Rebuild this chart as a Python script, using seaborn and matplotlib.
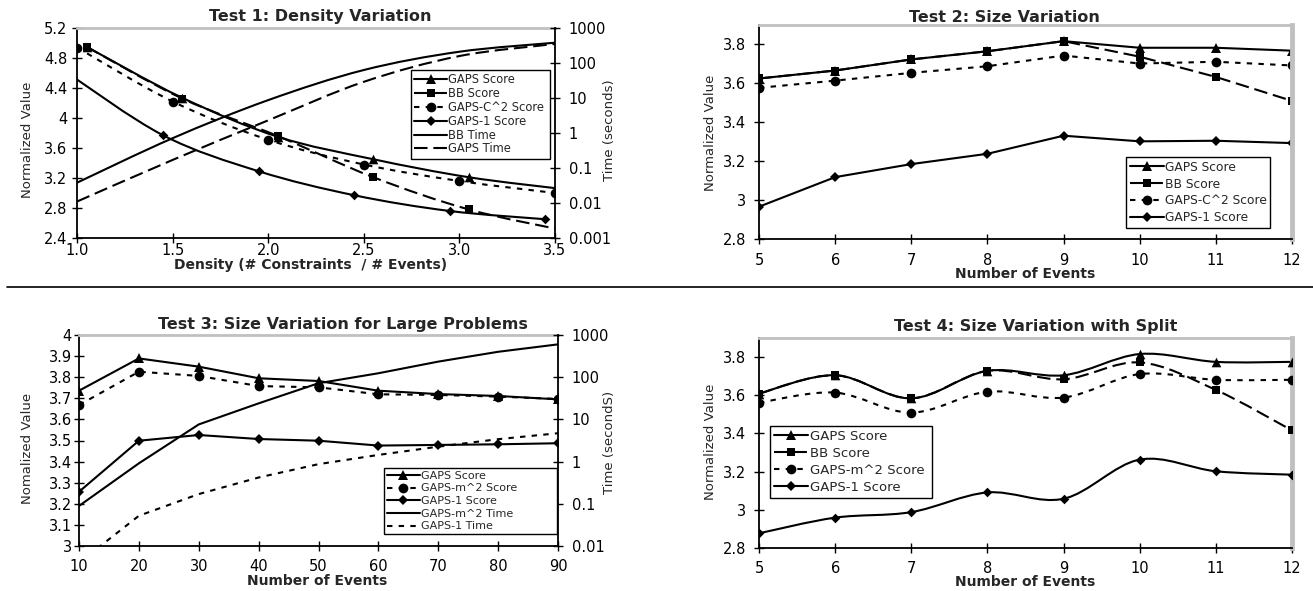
import numpy as np
import pandas as pd
import seaborn as sns
import matplotlib
matplotlib.use("Agg")
import matplotlib.pyplot as plt
from matplotlib.path import Path
from matplotlib.patches import PathPatch
from matplotlib.lines import Line2D
from matplotlib.ticker import NullLocator

# ---------------- data ----------------
# Test 1: Density Variation
t1_gaps_x = [1.05, 1.55, 2.05, 2.55, 3.05, 3.55]
t1_gaps_y = [4.95, 4.27, 3.75, 3.45, 3.21, 3.05]
t1_bb_x = [1.05, 1.55, 2.05, 2.55, 3.05, 3.55]
t1_bb_y = [4.95, 4.26, 3.76, 3.21, 2.78, 2.50]
t1_c2_x = [1.0, 1.5, 2.0, 2.5, 3.0, 3.5]
t1_c2_y = [4.94, 4.22, 3.71, 3.38, 3.16, 3.00]
t1_g1_x = [0.95, 1.45, 1.95, 2.45, 2.95, 3.45]
t1_g1_y = [4.60, 3.77, 3.29, 2.97, 2.76, 2.65]
t1_time_x = [1.0, 1.5, 2.0, 2.5, 3.0, 3.5]
t1_bb_time = [0.038, 0.71, 8.7, 63, 210, 380]
t1_gaps_time = [0.011, 0.17, 2.3, 29, 158, 350]
t1_xticks = [1.0, 1.5, 2.0, 2.5, 3.0, 3.5]
t1_xticklabels = ["1.0", "1.5", "2.0", "2.5", "3.0", "3.5"]
t1_yticks = [2.4, 2.8, 3.2, 3.6, 4.0, 4.4, 4.8, 5.2]
t1_yticklabels = ["2.4", "2.8", "3.2", "3.6", "4", "4.4", "4.8", "5.2"]
t1_rticks = [0.001, 0.01, 0.1, 1, 10, 100, 1000]
t1_rticklabels = ["0.001", "0.01", "0.1", "1", "10", "100", "1000"]

# Test 2: Size Variation
t2_x = [5, 6, 7, 8, 9, 10, 11, 12]
t2_gaps = [3.625, 3.666, 3.723, 3.765, 3.817, 3.783, 3.783, 3.768]
t2_bb = [3.625, 3.666, 3.723, 3.765, 3.817, 3.737, 3.633, 3.510]
t2_c2 = [3.577, 3.614, 3.654, 3.688, 3.743, 3.702, 3.711, 3.692]
t2_g1 = [2.966, 3.118, 3.185, 3.238, 3.331, 3.302, 3.305, 3.293]

# Test 3: Size Variation for Large Problems
t3_x = [10, 20, 30, 40, 50, 60, 70, 80, 90]
t3_gaps = [3.736, 3.889, 3.850, 3.795, 3.782, 3.736, 3.720, 3.711, 3.695]
t3_m2 = [3.668, 3.826, 3.806, 3.758, 3.752, 3.719, 3.716, 3.708, 3.697]
t3_g1 = [3.257, 3.499, 3.526, 3.507, 3.499, 3.476, 3.479, 3.482, 3.487]
t3_m2_time = [0.089, 0.91, 7.6, 24, 72, 124, 234, 400, 600]
t3_g1_time = [0.004, 0.052, 0.17, 0.42, 0.87, 1.44, 2.26, 3.4, 4.7]
t3_yticks = [3.0, 3.1, 3.2, 3.3, 3.4, 3.5, 3.6, 3.7, 3.8, 3.9, 4.0]
t3_yticklabels = ["3", "3.1", "3.2", "3.3", "3.4", "3.5", "3.6", "3.7", "3.8", "3.9", "4"]
t3_rticks = [0.01, 0.1, 1, 10, 100, 1000]
t3_rticklabels = ["0.01", "0.1", "1", "10", "100", "1000"]

# Test 4: Size Variation with Split
t4_x = [5, 6, 7, 8, 9, 10, 11, 12]
t4_gaps = [3.609, 3.705, 3.584, 3.728, 3.705, 3.816, 3.775, 3.775]
t4_bb = [3.609, 3.705, 3.584, 3.728, 3.684, 3.772, 3.628, 3.416]
t4_m2 = [3.561, 3.614, 3.509, 3.619, 3.588, 3.711, 3.681, 3.681]
t4_g1 = [2.877, 2.959, 2.988, 3.091, 3.058, 3.263, 3.202, 3.184]

size_yticks = [2.8, 3.0, 3.2, 3.4, 3.6, 3.8]
size_yticklabels = ["2.8", "3", "3.2", "3.4", "3.6", "3.8"]

# ---------------- style ----------------
sns.set_theme(style="white")
plt.rcParams['font.family'] = ['DejaVu Sans']
plt.rcParams['axes.facecolor'] = 'white'

W, H = 1313, 591
fig = plt.figure(figsize=(W / 100, H / 100), dpi=100)
fig.patch.set_facecolor('white')

BLACK = 'black'
GRAY = '#c0c0c0'
SOLID = '-'
LDASH = (0, (6.5, 2.8))
SDASH = (0, (2.6, 3.0))
LW = 1.5


def add_ax(l, r, t, b):
    return fig.add_axes([l / W, 1 - b / H, (r - l) / W, (b - t) / H])


def style_axes(ax, right_gray, xpad, ypad):
    for s in ['left', 'bottom']:
        ax.spines[s].set_color(BLACK)
        ax.spines[s].set_linewidth(1.3)
    ax.spines['top'].set_color(GRAY)
    ax.spines['top'].set_linewidth(2)
    if right_gray:
        ax.spines['right'].set_color(GRAY)
        ax.spines['right'].set_linewidth(3.5)
    else:
        ax.spines['right'].set_visible(False)
    ax.tick_params(axis='both', which='major', direction='inout', length=7,
                   width=1, colors=BLACK, labelsize=10.5,
                   bottom=True, left=True, top=False, right=False)
    ax.tick_params(axis='x', pad=xpad)
    ax.tick_params(axis='y', pad=ypad)
    ax.grid(False)


def style_twin(ax, ypad):
    for s in ['left', 'bottom', 'top']:
        ax.spines[s].set_visible(False)
    ax.spines['right'].set_color(BLACK)
    ax.spines['right'].set_linewidth(1.3)
    ax.tick_params(axis='y', which='major', direction='inout', length=7,
                   width=1, colors=BLACK, labelsize=10.5, pad=ypad,
                   right=True, left=False)
    ax.yaxis.set_minor_locator(NullLocator())
    ax.grid(False)


def smooth(ax, xs, ys, ls, log=False, lw=LW):
    """Excel-style smoothed line (Catmull-Rom Bezier) through data points."""
    y = np.log10(ys) if log else np.asarray(ys, float)
    p = np.column_stack([np.asarray(xs, float), y])
    n = len(p)
    verts = [p[0]]
    codes = [Path.MOVETO]
    for i in range(n - 1):
        p0 = p[i - 1] if i > 0 else p[i]
        p1, p2 = p[i], p[i + 1]
        p3 = p[i + 2] if i + 2 < n else p[i + 1]
        verts += [p1 + (p2 - p0) / 6, p2 - (p3 - p1) / 6, p2]
        codes += [Path.CURVE4] * 3
    v = np.array(verts)
    if log:
        v[:, 1] = 10 ** v[:, 1]
    patch = PathPatch(Path(v, codes), facecolor='none', edgecolor=BLACK,
                      lw=lw, linestyle=ls, zorder=2, capstyle='butt')
    ax.add_patch(patch)


def marks(ax, xs, ys, marker, s):
    sns.scatterplot(x=xs, y=ys, marker=marker, s=s, color=BLACK,
                    edgecolor=BLACK, linewidth=0, ax=ax, zorder=3, legend=False)


MK = {'^': ('^', 48, 7), 's': ('s', 38, 6.2), 'o': ('o', 48, 7), 'D': ('D', 24, 5)}


def handle(ls, marker=None):
    if marker:
        m, _, ms = MK[marker]
        return Line2D([], [], color=BLACK, lw=LW, linestyle=ls, marker=m,
                      markersize=ms, markeredgewidth=0)
    return Line2D([], [], color=BLACK, lw=LW, linestyle=ls)


def legend(ax, handles, labels, x0, y0, x1, fs, spacing, hl, bp=0.3):
    leg = ax.legend(handles, labels, loc='upper left',
                    bbox_to_anchor=(x0 / W, 1 - y0 / H, (x1 - x0) / W, 0.0),
                    bbox_transform=fig.transFigure, mode='expand',
                    frameon=True, fancybox=False,
                    edgecolor=BLACK, framealpha=1, fontsize=fs, handlelength=hl,
                    handletextpad=0.1, labelspacing=spacing, borderpad=bp,
                    borderaxespad=0, numpoints=1)
    leg.get_frame().set_linewidth(1.0)
    leg.set_zorder(10)
    return leg


def ftext(x, y, s, **kw):
    fig.text(x / W, 1 - y / H, s, ha='center', va='center', **kw)


# ---------------- Test 1 ----------------
ax1 = add_ax(77, 555, 28, 238)
ax1.set_xlim(1.0, 3.5)
ax1.set_ylim(2.4, 5.2)
style_axes(ax1, right_gray=False, xpad=0.0, ypad=3.5)
ax1.set_xticks(t1_xticks, t1_xticklabels)
ax1.set_yticks(t1_yticks, t1_yticklabels)
ax1b = ax1.twinx()
ax1b.set_yscale('log')
ax1b.set_ylim(0.001, 1000)
style_twin(ax1b, ypad=6.5)
ax1b.set_yticks(t1_rticks, t1_rticklabels)
ax1b.yaxis.set_minor_locator(NullLocator())

smooth(ax1, t1_gaps_x, t1_gaps_y, SOLID)
smooth(ax1, t1_bb_x, t1_bb_y, LDASH)
smooth(ax1, t1_c2_x, t1_c2_y, SDASH)
smooth(ax1, t1_g1_x, t1_g1_y, SOLID)
marks(ax1, t1_bb_x, t1_bb_y, 's', MK['s'][1])
marks(ax1, t1_gaps_x, t1_gaps_y, '^', MK['^'][1])
marks(ax1, t1_c2_x, t1_c2_y, 'o', MK['o'][1])
marks(ax1, t1_g1_x, t1_g1_y, 'D', MK['D'][1])
smooth(ax1b, t1_time_x, t1_bb_time, SOLID, log=True)
smooth(ax1b, t1_time_x, t1_gaps_time, LDASH, log=True)
ax1.set_xlim(1.0, 3.5)
ax1.set_ylim(2.4, 5.2)
ax1b.set_ylim(0.001, 1000)

legend(ax1b,
       [handle(SOLID, '^'), handle(LDASH, 's'), handle(SDASH, 'o'),
        handle(SOLID, 'D'), handle(SOLID), handle(LDASH)],
       ["GAPS Score", "BB Score", "GAPS-C^2 Score", "GAPS-1 Score",
        "BB Time", "GAPS Time"], 411, 70, 550, 8.3, 0.07, 2.85)

ftext(320, 17, "Test 1: Density Variation", fontsize=11.5, fontweight='bold')
ftext(311, 265, "Density (# Constraints  / # Events)", fontsize=10, fontweight='bold')
ftext(28, 140, "Normalized Value", fontsize=9.5, rotation=90)
ftext(610, 130, "Time (seconds)", fontsize=9.5, rotation=90)

# ---------------- Test 2 ----------------
ax2 = add_ax(759, 1292, 25, 239)
style_axes(ax2, right_gray=True, xpad=6.5, ypad=6)
for ys, ls, mk in [(t2_gaps, SOLID, '^'), (t2_bb, LDASH, 's'),
                   (t2_c2, SDASH, 'o'), (t2_g1, SOLID, 'D')]:
    sns.lineplot(x=t2_x, y=ys, ax=ax2, color=BLACK, lw=LW, linestyle=ls,
                 marker=MK[mk][0], markersize=MK[mk][2], markeredgewidth=0,
                 errorbar=None, legend=False)
ax2.set_xlim(5, 12)
ax2.set_ylim(2.8, 3.9)
ax2.set_xticks(t2_x)
ax2.set_yticks(size_yticks, size_yticklabels)
legend(ax2, [handle(SOLID, '^'), handle(LDASH, 's'), handle(SDASH, 'o'),
             handle(SOLID, 'D')],
       ["GAPS Score", "BB Score", "GAPS-C^2 Score", "GAPS-1 Score"],
       1126, 157, 1270, 8.8, 0.32, 2.8)
ftext(1004, 17, "Test 2: Size Variation", fontsize=11.5, fontweight='bold')
ftext(1025, 274, "Number of Events", fontsize=10, fontweight='bold')
ftext(710, 133, "Normalized Value", fontsize=9.5, rotation=90)

# ---------------- Test 3 ----------------
ax3 = add_ax(79, 558, 335, 546)
style_axes(ax3, right_gray=False, xpad=6.0, ypad=1.5)
ax3b = ax3.twinx()
ax3b.set_yscale('log')
style_twin(ax3b, ypad=6.5)
for ys, ls, mk in [(t3_gaps, SOLID, '^'), (t3_m2, SDASH, 'o'), (t3_g1, SOLID, 'D')]:
    sns.lineplot(x=t3_x, y=ys, ax=ax3, color=BLACK, lw=LW, linestyle=ls,
                 marker=MK[mk][0], markersize=MK[mk][2], markeredgewidth=0,
                 errorbar=None, legend=False)
for ys, ls in [(t3_m2_time, SOLID), (t3_g1_time, SDASH)]:
    sns.lineplot(x=t3_x, y=ys, ax=ax3b, color=BLACK, lw=LW, linestyle=ls,
                 errorbar=None, legend=False)
ax3.set_xlim(10, 90)
ax3.set_ylim(3.0, 4.0)
ax3.set_xticks(t3_x)
ax3.set_yticks(t3_yticks, t3_yticklabels)
ax3b.set_ylim(0.01, 1000)
ax3b.set_yticks(t3_rticks, t3_rticklabels)
ax3b.yaxis.set_minor_locator(NullLocator())
ax3.set_ylabel("")
ax3b.set_ylabel("")
legend(ax3b, [handle(SOLID, '^'), handle(SDASH, 'o'), handle(SOLID, 'D'),
              handle(SOLID), handle(SDASH)],
       ["GAPS Score", "GAPS-m^2 Score", "GAPS-1 Score", "GAPS-m^2 Time",
        "GAPS-1 Time"], 384, 468, 557, 8.0, 0.24, 3.0, bp=0.25)
ftext(343, 325, "Test 3: Size Variation for Large Problems", fontsize=11.5, fontweight='bold')
ftext(317, 581, "Number of Events", fontsize=10, fontweight='bold')
ftext(28, 448, "Nomalized Value", fontsize=9.5, rotation=90)
ftext(610, 442, "Time (secondS)", fontsize=9.5, rotation=90)

# ---------------- Test 4 ----------------
ax4 = add_ax(759, 1292, 338, 548)
style_axes(ax4, right_gray=True, xpad=6.0, ypad=6)
ax4.set_xlim(5, 12)
ax4.set_ylim(2.8, 3.9)
smooth(ax4, t4_x, t4_gaps, SOLID)
smooth(ax4, t4_x, t4_bb, LDASH)
smooth(ax4, t4_x, t4_m2, SDASH)
smooth(ax4, t4_x, t4_g1, SOLID)
marks(ax4, t4_x, t4_gaps, '^', MK['^'][1])
marks(ax4, t4_x, t4_bb, 's', MK['s'][1])
marks(ax4, t4_x, t4_m2, 'o', MK['o'][1])
marks(ax4, t4_x, t4_g1, 'D', MK['D'][1])
ax4.set_xlim(5, 12)
ax4.set_ylim(2.8, 3.9)
ax4.set_xticks(t4_x)
ax4.set_yticks(size_yticks, size_yticklabels)
legend(ax4, [handle(SOLID, '^'), handle(LDASH, 's'), handle(SDASH, 'o'),
             handle(SOLID, 'D')],
       ["GAPS Score", "BB Score", "GAPS-m^2 Score", "GAPS-1 Score"],
       770, 426, 932, 9.5, 0.3, 2.6)
ftext(1036, 326, "Test 4: Size Variation with Split", fontsize=11.5, fontweight='bold')
ftext(1025, 582, "Number of Events", fontsize=10, fontweight='bold')
ftext(710, 442, "Normalized Value", fontsize=9.5, rotation=90)

# separator line between the rows
fig.add_artist(Line2D([7 / W, 1.0], [1 - 287 / H, 1 - 287 / H], color=BLACK, lw=1.2))

fig.savefig("out.png", dpi=100, facecolor='white')
